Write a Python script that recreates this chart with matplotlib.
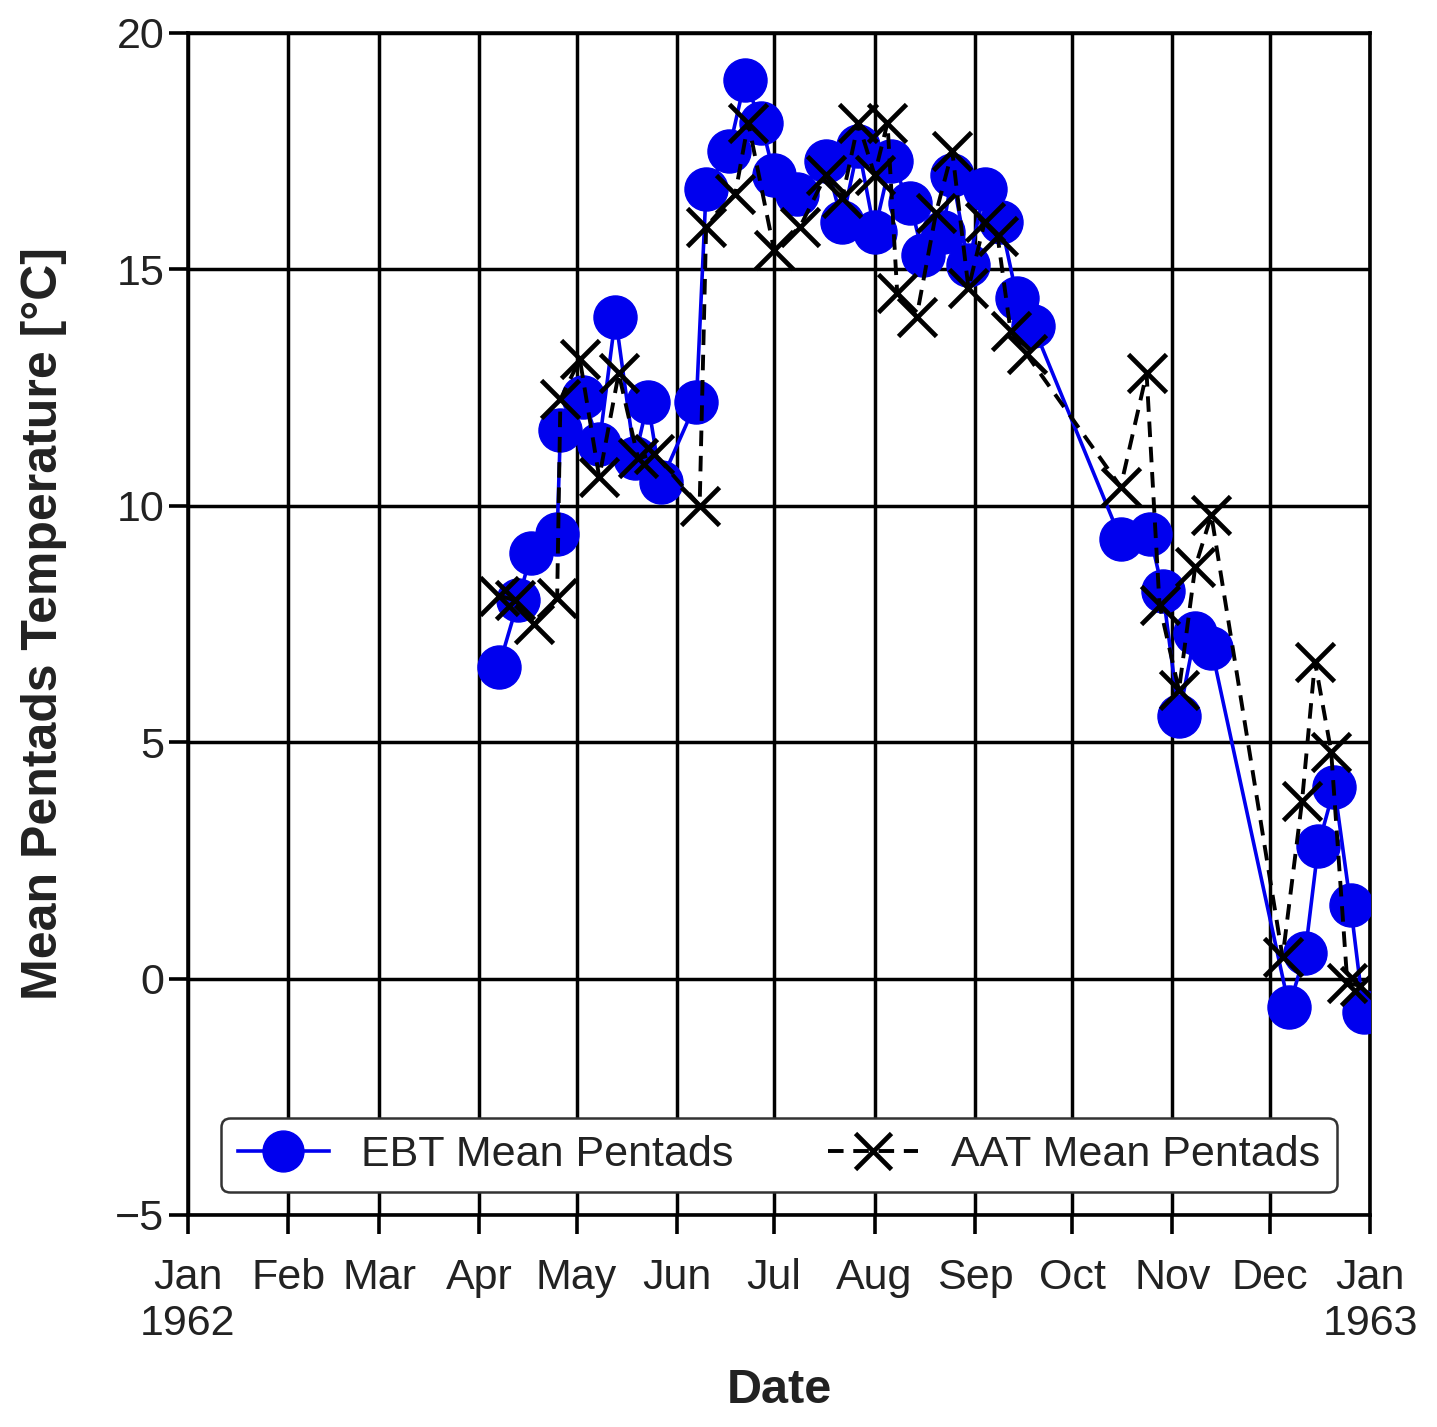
import pandas as pd
import matplotlib
matplotlib.use("Agg")
import matplotlib.pyplot as plt

plt.rcParams['font.family'] = ['Liberation Sans', 'DejaVu Sans']

# EBT pentad means
ebt_dates = ['1962-04-07', '1962-04-13', '1962-04-17', '1962-04-25', '1962-04-26',
             '1962-05-03', '1962-05-08', '1962-05-13', '1962-05-19', '1962-05-23',
             '1962-05-27', '1962-06-07', '1962-06-10', '1962-06-17', '1962-06-22',
             '1962-06-27', '1962-07-01', '1962-07-08', '1962-07-17', '1962-07-22',
             '1962-07-27', '1962-08-01', '1962-08-06', '1962-08-12', '1962-08-16',
             '1962-08-22', '1962-08-25', '1962-08-30', '1962-09-04', '1962-09-09',
             '1962-09-14', '1962-09-19', '1962-10-16', '1962-10-25', '1962-10-29',
             '1962-11-03', '1962-11-08', '1962-11-13', '1962-12-07', '1962-12-12',
             '1962-12-16', '1962-12-21', '1962-12-26', '1962-12-30']
ebt_temp = [6.6, 8.0, 9.0, 9.4, 11.6,
            12.3, 11.3, 14.0, 11.0, 12.2,
            10.5, 12.2, 16.7, 17.5, 19.0,
            18.1, 17.0, 16.6, 17.3, 16.0,
            17.6, 15.8, 17.3, 16.4, 15.3,
            15.8, 17.0, 15.1, 16.7, 16.0,
            14.4, 13.8, 9.3, 9.4, 8.2,
            5.55, 7.3, 7.0, -0.6, 0.55,
            2.8, 4.05, 1.55, -0.7]

# AAT pentad means
aat_dates = ['1962-04-07', '1962-04-12', '1962-04-18', '1962-04-25', '1962-04-26',
             '1962-05-02', '1962-05-08', '1962-05-14', '1962-05-20', '1962-05-25',
             '1962-06-08', '1962-06-10', '1962-06-19', '1962-06-23', '1962-07-01',
             '1962-07-09', '1962-07-17', '1962-07-22', '1962-07-27', '1962-08-01',
             '1962-08-05', '1962-08-08', '1962-08-14', '1962-08-20', '1962-08-25',
             '1962-08-30', '1962-09-04', '1962-09-08', '1962-09-12', '1962-09-17',
             '1962-10-16', '1962-10-24', '1962-10-28', '1962-11-03', '1962-11-08',
             '1962-11-13', '1962-12-05', '1962-12-11', '1962-12-15', '1962-12-20',
             '1962-12-25', '1962-12-29']
aat_temp = [8.1, 8.0, 7.5, 8.05, 12.25,
            13.1, 10.6, 12.8, 11.0, 11.1,
            10.0, 15.9, 16.6, 18.1, 15.4,
            15.9, 17.0, 16.5, 18.1, 17.0,
            18.1, 14.5, 14.0, 16.2, 17.5,
            14.6, 16.0, 15.7, 13.7, 13.2,
            10.4, 12.8, 7.9, 6.1, 8.7,
            9.8, 0.45, 3.75, 6.7, 4.8,
            -0.1, -0.15]

month_ticks = pd.date_range('1962-01-01', '1963-01-01', freq='MS')
month_labels = ['Jan\n1962', 'Feb', 'Mar', 'Apr', 'May', 'Jun', 'Jul',
                'Aug', 'Sep', 'Oct', 'Nov', 'Dec', 'Jan\n1963']

fig = plt.figure(figsize=(14.37, 14.27), dpi=100)
ax = fig.add_axes([0.1308, 0.1486, 0.8226, 0.8283])

ax.plot(pd.to_datetime(ebt_dates), ebt_temp, '-', color='#0000ee', lw=2.6,
        marker='o', markersize=31, label='EBT Mean Pentads', zorder=3)
ax.plot(pd.to_datetime(aat_dates), aat_temp, '--', color='black', lw=2.8,
        dashes=(4, 2.5), marker='x', markersize=27, markeredgewidth=3.4,
        label='AAT Mean Pentads', zorder=4)

ax.set_xlim(month_ticks[0], month_ticks[-1])
ax.set_ylim(-5, 20)
ax.set_yticks([-5, 0, 5, 10, 15, 20])
ax.set_xticks(month_ticks)
ax.set_xticklabels(month_labels)

ax.grid(True, color='black', lw=2.5)
ax.set_axisbelow(True)
for s in ax.spines.values():
    s.set_linewidth(2.6)
ax.tick_params(axis='both', direction='out', length=14, width=2.6,
               labelsize=31, colors='black', labelcolor='#222222', pad=3)
ax.tick_params(axis='x', pad=17)

ax.set_xlabel('Date', fontsize=35, fontweight='bold', labelpad=17, color='#222222')
ax.set_ylabel('Mean Pentads Temperature [°C]', fontsize=36, fontweight='bold',
              labelpad=35, color='#222222')

leg = ax.legend(loc='lower center', bbox_to_anchor=(0.5, 0.019), borderaxespad=0,
                ncol=2, fontsize=31, frameon=True, fancybox=True, framealpha=1,
                handlelength=2.1, handletextpad=0.75, columnspacing=2.2,
                borderpad=0.4, markerscale=0.95)
leg.get_frame().set_edgecolor('#333333')
leg.get_frame().set_linewidth(1.8)
for t in leg.get_texts():
    t.set_color('#222222')

plt.savefig('out.png', dpi=100)
